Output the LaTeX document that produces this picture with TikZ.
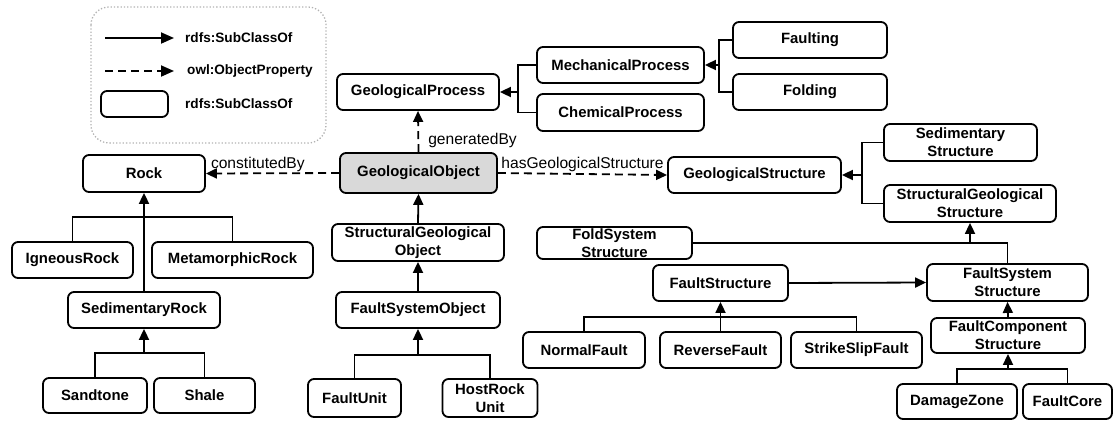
\documentclass[tikz,border=0pt]{standalone}
\usepackage{fontspec}
\setmainfont{Liberation Sans}
\usetikzlibrary{arrows.meta}
\begin{document}
\begin{tikzpicture}[x=1pt,y=-1pt,
  cls/.style={draw, line width=1.8pt, rounded corners=6pt, align=center,
    font=\fontsize{14.9}{18}\selectfont\bfseries, inner sep=0pt},
  leg/.style={font=\fontsize{13.6}{16}\selectfont\bfseries, inner sep=0pt, anchor=west},
  lbl/.style={font=\fontsize{15.6}{18}\selectfont, inner sep=0pt},
  conn/.style={line width=1.8pt},
  arr/.style={conn, -{Triangle[length=11pt,width=10pt]}},
  dsh/.style={arr, dash pattern=on 8pt off 5pt}]
\useasboundingbox (0,0) rectangle (1113,421);

% legend
\draw[gray!60, dotted, line width=1.3pt, rounded corners=18pt] (91,7) rectangle (326,143);
\coordinate (la1) at (105,38); \coordinate (lb1) at (174,38);
\coordinate (la2) at (105,71); \coordinate (lb2) at (174,71);
\draw[arr, -{Triangle[length=13pt,width=11pt]}] (la1) -- (lb1);
\draw[dsh, -{Triangle[length=13pt,width=11pt]}] (la2) -- (lb2);
\node[leg] (lt1) at (185,38) {rdfs:SubClassOf};
\node[leg] (lt2) at (187,71) {owl:ObjectProperty};
\node[cls, minimum width=67pt, minimum height=26pt] (lbox) at (134.5,104) {};
\node[leg] (lt3) at (185,104) {rdfs:SubClassOf};

% nodes
\node[cls, minimum width=162pt, minimum height=36pt] (GP) at (418,92) {GeologicalProcess};
\node[cls, minimum width=167pt, minimum height=36pt] (MP) at (620.5,65) {MechanicalProcess};
\node[cls, minimum width=167pt, minimum height=37pt] (CP) at (620.5,112.5) {ChemicalProcess};
\node[cls, minimum width=154pt, minimum height=36pt] (FLT) at (810,40) {Faulting};
\node[cls, minimum width=154pt, minimum height=36pt] (FLD) at (810,92) {Folding};
\node[cls, fill=black!15, minimum width=157pt, minimum height=40pt] (GO) at (418.5,173) {GeologicalObject};
\node[cls, minimum width=173pt, minimum height=36pt] (GS) at (754.5,175) {GeologicalStructure};
\node[cls, minimum width=153pt, minimum height=37pt] (SS) at (960.5,142.5) {Sedimentary\\Structure};
\node[cls, minimum width=172pt, minimum height=37pt] (SGS) at (970,203.5) {StructuralGeological\\Structure};
\node[cls, minimum width=122pt, minimum height=37pt] (RK) at (144,173.5) {Rock};
\node[cls, minimum width=121pt, minimum height=36pt] (IR) at (72.5,260) {IgneousRock};
\node[cls, minimum width=161pt, minimum height=36pt] (MR) at (232.5,260) {MetamorphicRock};
\node[cls, minimum width=152pt, minimum height=36pt] (SR) at (144,310) {SedimentaryRock};
\node[cls, minimum width=104pt, minimum height=35pt] (SAN) at (95,395.5) {Sandtone};
\node[cls, minimum width=101pt, minimum height=35pt] (SHA) at (204.5,395.5) {Shale};
\node[cls, minimum width=172pt, minimum height=37pt] (SGO) at (418,242.5) {StructuralGeological\\Object};
\node[cls, minimum width=164pt, minimum height=36pt] (FSO) at (418,310) {FaultSystemObject};
\node[cls, minimum width=93pt, minimum height=38pt] (FU) at (354.5,398) {FaultUnit};
\node[cls, minimum width=95pt, minimum height=38pt] (HRU) at (490,398) {HostRock\\Unit};
\node[cls, minimum width=155pt, minimum height=32pt] (FOS) at (614.5,243) {FoldSystem\\Structure};
\node[cls, minimum width=135pt, minimum height=36pt] (FS) at (720.5,283) {FaultStructure};
\node[cls, minimum width=122pt, minimum height=36pt] (NF) at (584,350) {NormalFault};
\node[cls, minimum width=121pt, minimum height=36pt] (RF) at (720.5,350) {ReverseFault};
\node[cls, minimum width=131pt, minimum height=36pt] (SSF) at (856.5,350) {StrikeSlipFault};
\node[cls, minimum width=161pt, minimum height=37pt] (FSS) at (1007.5,282.5) {FaultSystem\\Structure};
\node[cls, minimum width=154pt, minimum height=35pt] (FCS) at (1008,335.5) {FaultComponent\\Structure};
\node[cls, minimum width=120pt, minimum height=35pt] (DZ) at (957,401.5) {DamageZone};
\node[cls, minimum width=89pt, minimum height=35pt] (FC) at (1067.5,401.5) {FaultCore};

% junction points
\coordinate (jGP) at (518,92);
\coordinate (jMP) at (719,65);
\coordinate (jGS) at (862,175);
\coordinate (jRK) at (144,217);
\coordinate (jSR) at (144,353);
\coordinate (jFSO) at (418,355);
\coordinate (jFS) at (720.5,317);
\coordinate (jFC) at (1008,369);

% subclass trees
\draw[conn] (MP.west) -| (jGP);
\draw[conn] (CP.west) -| (jGP);
\draw[arr] (jGP) -- (GP.east);
\draw[conn] (FLT.west) -| (jMP);
\draw[conn] (FLD.west) -| (jMP);
\draw[arr] (jMP) -- (MP.east);
\draw[conn] (SS.west) -| (jGS);
\draw[conn] (SGS.west) -| (jGS);
\draw[arr] (jGS) -- (GS.east);
\draw[conn] (IR.north) |- (jRK);
\draw[conn] (MR.north) |- (jRK);
\draw[arr] (SR.north) -- (RK.south);
\draw[conn] (SAN.north) |- (jSR);
\draw[conn] (SHA.north) |- (jSR);
\draw[arr] (jSR) -- (SR.south);
\draw[arr] (SGO.north) -- (GO.south);
\draw[arr] (FSO.north) -- (SGO.south);
\draw[conn] (FU.north) |- (jFSO);
\draw[conn] (HRU.north) |- (jFSO);
\draw[arr] (jFSO) -- (FSO.south);
\draw[conn] (NF.north) |- (jFS);
\draw[conn] (SSF.north) |- (jFS);
\draw[arr] (RF.north) -- (FS.south);
\draw[arr] (FS.east) -- (FSS.west);
\draw[conn] (FOS.east) -| (FSS.north);
\draw[arr] (FOS.east -| SGS.south) -- (SGS.south);
\draw[arr] (FCS.north) -- (FSS.south);
\draw[conn] (DZ.north) |- (jFC);
\draw[conn] (FC.north) |- (jFC);
\draw[arr] (jFC) -- (FCS.south);

% object properties
\draw[dsh] (GO.north) -- (GP.south)
  node[lbl, pos=0.28, anchor=west, xshift=9pt] (lgen) {generatedBy};
\draw[dsh] (GO.east) -- (GS.west)
  node[lbl, pos=0.5, anchor=south, yshift=1.5pt] (lhas) {hasGeologicalStructure};
\draw[dsh] (GO.west) -- (RK.east)
  node[lbl, pos=0.61, anchor=south, yshift=1pt] (lcon) {constitutedBy};
\end{tikzpicture}
\end{document}
